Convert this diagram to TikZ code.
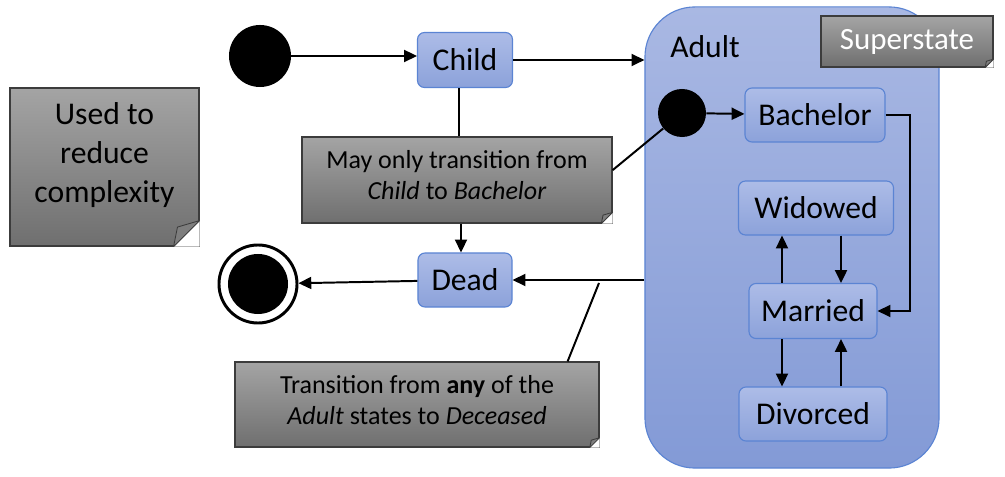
\documentclass[tikz,border=0pt]{standalone}
\usepackage{fontspec}
\setmainfont{Carlito}
\usetikzlibrary{arrows.meta}
\definecolor{statetop}{HTML}{ADBCE7}
\definecolor{statebot}{HTML}{8CA2DA}
\definecolor{stateline}{HTML}{5B84D3}
\definecolor{supertop}{HTML}{A9B8E3}
\definecolor{superbot}{HTML}{839AD6}
\definecolor{notetop}{HTML}{A4A4A4}
\definecolor{notebot}{HTML}{6F6F6F}
\definecolor{noteline}{HTML}{3C3C3C}
\definecolor{foldgray}{HTML}{7E7E7E}
\tikzset{
  state/.style={draw=stateline,line width=0.8pt,rounded corners=5pt,top color=statetop,bottom color=statebot,
    inner sep=0pt,font=\fontsize{22.5}{26}\selectfont},
  superst/.style={draw=stateline,line width=0.8pt,rounded corners=1.25cm,top color=supertop,bottom color=superbot,inner sep=0pt},
  note/.style={draw=noteline,line width=0.8pt,top color=notetop,bottom color=notebot,inner sep=0pt},
  notetext/.style={align=center,font=\fontsize{18.5}{22}\selectfont},
  initst/.style={circle,fill=black,inner sep=0pt},
  conn/.style={line width=1.4pt},
}
% folded corner of a note
\newcommand{\notefold}[2]{%
  \fill[white] ([xshift=-#2]#1.south east) -- (#1.south east) -- ([yshift=#2]#1.south east) -- cycle;
  \filldraw[draw=noteline,fill=foldgray,line width=0.6pt,line join=round] ([xshift=-#2]#1.south east)
    -- ([yshift=#2]#1.south east) -- ([xshift=-0.85*#2,yshift=0.75*#2]#1.south east) -- cycle;}
\begin{document}
\begin{tikzpicture}[x=0.025cm,y=-0.025cm,>={Triangle[length=3.2mm,width=3mm]}]
\useasboundingbox (0,0) rectangle (1005,477);
% superstate
\node[superst,minimum width=7.35cm,minimum height=11.525cm] (adult) at (792,237.5) {};
\node[font=\fontsize{22.5}{26}\selectfont] (adultlbl) at (705,47) {Adult};
\node[note,minimum width=4.3cm,minimum height=1.275cm,text=white,font=\fontsize{22}{26}\selectfont] (supernote) at (907,41.5) {Superstate};
\notefold{supernote}{6pt}
% states
\node[initst,minimum size=1.55cm] (start) at (260,56) {};
\node[state,minimum width=2.375cm,minimum height=1.375cm] (child) at (465,60) {Child};
\node[state,minimum width=2.35cm,minimum height=1.35cm] (dead) at (465,280) {Dead};
\node[circle,draw=black,line width=2.1pt,fill=white,minimum size=1.95cm,inner sep=0pt] (final) at (258,284) {};
\node[initst,minimum size=1.5cm] (finaldot) at (final) {};
\node[initst,minimum size=1.2cm] (ainit) at (682,113) {};
\node[state,minimum width=3.5cm,minimum height=1.35cm] (bach) at (815,115) {Bachelor};
\node[state,minimum width=3.875cm,minimum height=1.35cm] (widowed) at (816,208) {Widowed};
\node[state,minimum width=3.2cm,minimum height=1.375cm] (married) at (813,311) {Married};
\node[state,minimum width=3.7cm,minimum height=1.35cm] (divorced) at (813,414) {Divorced};
% notes
\node[note,minimum width=4.725cm,minimum height=3.95cm] (usenote) at (104.5,167) {};
\notefold{usenote}{18.5pt}
\node[notetext,font=\fontsize{22.5}{27.5}\selectfont] (usetext) at (104.5,155) {Used to\\reduce\\complexity};
\node[note,minimum width=7.75cm,minimum height=2.15cm] (onlynote) at (457,180) {};
\notefold{onlynote}{8pt}
\node[notetext] (onlytext) at (457,175) {May only transition from\\\textit{Child} to \textit{Bachelor}};
\node[note,minimum width=9.1cm,minimum height=2.125cm] (anynote) at (417,404.5) {};
\notefold{anynote}{7pt}
\node[notetext] (anytext) at (417,400) {Transition from \textbf{any} of the\\\textit{Adult} states to \textit{Deceased}};
\coordinate (anyend) at (599,283);
% transitions
\draw[conn,->] (start) -- (child.west |- start);
\draw[conn,->] (child) -- (child -| adult.west);
\draw[conn] ([xshift=-0.15cm]child.south) -- ([xshift=-0.15cm]child.south |- onlynote.north);
\draw[conn,->] ([xshift=-0.1cm]dead.north |- onlynote.south) -- ([xshift=-0.1cm]dead.north);
\draw[conn,->] (adult.west |- dead) -- (dead);
\draw[conn,->] (dead) -- (final);
\draw[conn] ([yshift=7pt]onlynote.east) -- (ainit);
\draw[conn] ([xshift=-0.8cm]anynote.north east) -- (anyend);
\draw[conn,->] (ainit) -- (bach);
\draw[conn,->] (bach.east) -- ++(24,0) |- (married.east);
\draw[conn,->] ([xshift=-0.775cm]married.north) -- ([xshift=-0.775cm]married.north |- widowed.south);
\draw[conn,->] ([xshift=0.7cm]married.north |- widowed.south) -- ([xshift=0.7cm]married.north);
\draw[conn,->] ([xshift=-0.775cm]married.south) -- ([xshift=-0.775cm]married.south |- divorced.north);
\draw[conn,->] ([xshift=0.7cm]married.south |- divorced.north) -- ([xshift=0.7cm]married.south);
\end{tikzpicture}
\end{document}
